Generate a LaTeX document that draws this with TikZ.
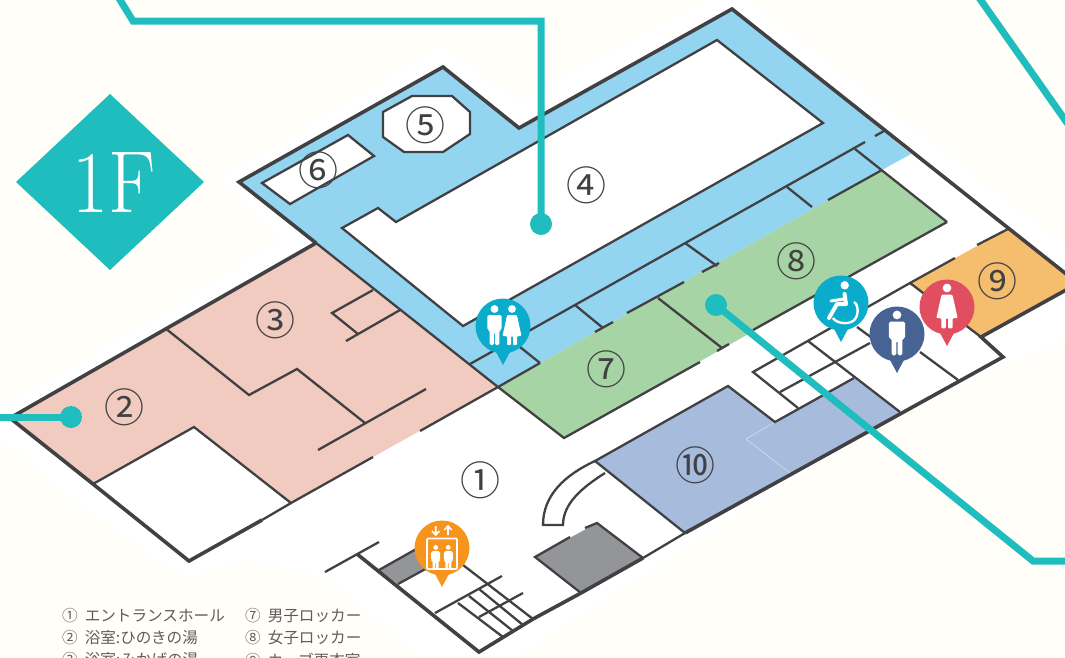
\documentclass[tikz,border=0pt]{standalone}
\usepackage{fontspec}
\usepackage{graphicx}
\newfontfamily\jpfont{Noto Sans CJK JP}
\usetikzlibrary{calc}
\definecolor{paper}{HTML}{FFFEF8}
\definecolor{wallcol}{HTML}{414042}
\definecolor{leadcol}{HTML}{20BDBE}
\definecolor{bluecol}{HTML}{93D5F0}
\definecolor{pinkcol}{HTML}{F1CBC0}
\definecolor{greencol}{HTML}{A7D4A5}
\definecolor{orangecol}{HTML}{F5BE6E}
\definecolor{slatecol}{HTML}{A7BBDD}
\definecolor{graycol}{HTML}{939598}
\definecolor{pincyan}{HTML}{0AABCB}
\definecolor{pinnavy}{HTML}{466393}
\definecolor{pinred}{HTML}{E04E60}
\definecolor{pinorange}{HTML}{F7941E}
\def\haloshape{(220,178) -- (440,45) -- (520,100) -- (730,-15) -- (750,0) -- (960,163) -- (1080,255) -- (1080,335) -- (920,400) -- (543,640) -- (479,690) -- (440,680) -- (333,580) -- (246,560) -- (190,577) -- (173,573) -- (50,483) -- (-20,420) -- (200,290) -- (280,238) -- cycle}
\def\blueroom{(239,182) -- (443,67) -- (519,128) -- (732,9) -- (911,154) -- (882,170) -- (498,387) -- cycle}
\def\courtyard{(342,228) -- (378,208) -- (396,222) -- (717,40) -- (823,123) -- (463,326) -- cycle}
\def\pinkroom{(316,243) -- (10,418) -- (93,484) -- (194,427) -- (291,503) -- (498,387) -- cycle}
\def\greenroom{(498,387) -- (882,170) -- (947,222) -- (564,438) -- cycle}
\def\orangeroom{(1008,229) -- (1075,281) -- (1075,285) -- (981,337) -- (910,283) -- cycle}
\def\slateroom{(595,461) -- (728,386) -- (775,422) -- (854,378) -- (900,413) -- (685,533) -- cycle}
\def\manicon{\fill[white] (0,-17) circle [radius=3.9];
    \fill[white,rounded corners=1.5] (-7.2,-11) -- (7.2,-11) -- (7.2,4) -- (4.8,4) -- (4.8,19) -- (0.5,19) -- (0.5,6) -- (-0.5,6) -- (-0.5,19) -- (-4.8,19) -- (-4.8,4) -- (-7.2,4) -- cycle;}
\def\womanicon{\fill[white] (0,-17) circle [radius=3.9];
    \fill[white,rounded corners=1] (-4.8,-11) -- (4.8,-11) -- (6,-6) -- (9.5,10) -- (5,10) -- (5,19) -- (1,19) -- (1,10) -- (-1,10) -- (-1,19) -- (-5,19) -- (-5,10) -- (-9.5,10) -- (-6,-6) -- cycle;}
\tikzset{
    wallthick/.style={draw=wallcol,line width=3.6pt,line join=miter},
    wallthin/.style={draw=wallcol,line width=2.3pt,line join=miter},
    leader/.style={draw=leadcol,line width=7pt,line join=miter},
    leaddot/.style={circle,fill=leadcol,minimum size=22pt,inner sep=0pt},
    pinhead/.style={circle,minimum size=55pt,inner sep=0pt},
    roomnum/.style={text=wallcol,inner sep=0pt,font=\jpfont\fontsize{40}{40}\selectfont},
    legend/.style={anchor=west,text=wallcol!85,inner sep=0pt,font=\jpfont\fontsize{15.6}{16}\selectfont},
}
\begin{document}
\begin{tikzpicture}[x=1pt,y=-1pt]
    \useasboundingbox (0,0) rectangle (1065,657);
    \clip (0,0) rectangle (1065,657);
    \fill[paper] (0,0) rectangle (1065,657);
    \fill[white] \haloshape;
    % rooms
    \fill[bluecol] \blueroom;
    \fill[white,draw=wallcol,line width=2.3pt] \courtyard;
    \fill[pinkcol] \pinkroom;
    \fill[greencol] \greenroom;
    \fill[orangecol] \orangeroom;
    \fill[slatecol] \slateroom;
    \draw[draw=slatecol!55!white,line width=.7pt] (775,422) -- (746,439) -- (790,473);
    \fill[graycol] (535,557) -- (597,523) -- (643,558) -- (581,593) -- cycle;
    \fill[graycol] (379,570) -- (418,548) -- (440,561) -- (398,584) -- cycle;
    \fill[white,draw=wallcol,line width=2.3pt] (383,112) -- (412,96) -- (452,96) -- (470,112) -- (470,134) -- (443,152) -- (404,152) -- (383,137) -- cycle;
    \fill[white,draw=wallcol,line width=2.3pt] (262,183) -- (348,135) -- (374,156) -- (290,204) -- cycle;
    % outer walls
    \draw[wallthick] (316,243) -- (239,182) -- (443,67) -- (519,128) -- (732,9) -- (1075,281);
    \draw[wallthick] (316,243) -- (10,418) -- (93,484) -- (189,561) -- (262,520);
    \draw[wallthick] (1075,285) -- (981,337) -- (1003,357) -- (685,533);
    \draw[wallthick] (643,558) -- (581,593) -- (533,619);
    \draw[wallthick] (357,554) -- (479,652) -- (533,619);
    \draw[wallthin] (643,558) -- (685,533);
    \draw[wallthin] (262,520) -- (291,503);
    % pink room walls
    \draw[wallthin] (239,182) -- (498,387);
    \draw[wallthin] (93,484) -- (194,427) -- (291,503) -- (373,457);
    \draw[wallthin] (420,431) -- (498,387);
    \draw[wallthin] (165,328) -- (249,395) -- (297,369) -- (365,423);
    \draw[wallthin] (318,450) -- (426,389);
    \draw[wallthin] (373,290) -- (332,313) -- (358,334);
    \draw[wallthin] (346,341) -- (400,310);
    % blue and green walls
    \draw[wallthin] (470,364) -- (865,142);
    \draw[wallthin] (875,136) -- (884,131);
    \draw[wallthin] (505,335) -- (540,363);
    \draw[wallthin] (575,305) -- (603,328);
    \draw[wallthin] (685,243) -- (717,266);
    \draw[wallthin] (787,187) -- (812,207);
    \draw[wallthin] (855,149) -- (947,222);
    \draw[wallthin] (498,387) -- (540,363);
    \draw[wallthin] (595,332) -- (613,322);
    \draw[wallthin] (627,313) -- (684,282);
    \draw[wallthin] (702,272) -- (719,263);
    \draw[wallthin] (828,200) -- (882,170);
    \draw[wallthin] (498,387) -- (564,438) -- (700,362);
    \draw[wallthin] (717,351) -- (729,344);
    \draw[wallthin] (753,330) -- (947,222);
    \draw[wallthin] (658,298) -- (722,348);
    % lockers and orange room
    \draw[wallthin] (798,408) -- (753,372) -- (910,283) -- (955,258);
    \draw[wallthin] (977,245) -- (1008,229);
    \draw[wallthin] (910,283) -- (981,337);
    \draw[wallthin] (808,341) -- (900,412);
    \draw[wallthin] (780,392) -- (870,343);
    \draw[wallthin] (857,327) -- (872,338);
    \draw[wallthin] (920,352) -- (958,380);
    % slate room walls and door
    \draw[wallthin] (685,533) -- (595,461) -- (728,386) -- (775,422) -- (854,378);
    \draw[wallthin] (595,461) .. controls (565,475) and (543,495) .. (543,525) -- (563,525) .. controls (563,503) and (583,487) .. (605,473);
    % gray block and stairs
    \draw[wallthin] (570,537) -- (535,557) -- (581,593);
    \draw[wallthin] (585,528) -- (597,523) -- (643,558);
    \draw[wallthin] (379,542) -- (325,572);
    \draw[wallthin] (398,584) -- (440,561);
    \draw[wallthin] (379,570) -- (418,548);
    \draw[wallthin] (463,565) -- (533,619);
    \draw[wallthin] (435,613) -- (502,576);
    \draw[wallthin] (479,617) -- (523,593);
    \draw[wallthin] (458,603) -- (503,637);
    \draw[wallthin] (469,596) -- (513,631);
    \draw[wallthin] (479,589) -- (523,625);
    % room numbers
    \node[roomnum] (roomone) at (480,480) {①};
    \node[roomnum] (roomtwo) at (124,407) {②};
    \node[roomnum] (roomthree) at (275,320) {③};
    \node[roomnum] (roomfour) at (586,185) {④};
    \node[roomnum] (roomfive) at (425,125) {⑤};
    \node[roomnum] (roomsix) at (318,170) {⑥};
    \node[roomnum] (roomseven) at (606,369) {⑦};
    \node[roomnum] (roomeight) at (796,261) {⑧};
    \node[roomnum] (roomnine) at (997,281) {⑨};
    \node[roomnum] (roomten) at (695,465) {⑩};
    % floor mark
    \fill[leadcol] (110,94) -- (204,182) -- (110,270) -- (16,182) -- cycle;
    \node[text=white,inner sep=0pt] (floormark) at (114.5,183) {\scalebox{.89}[1]{\fontsize{88}{88}\selectfont 1F}};
    % legend
    \node[legend] (legone) at (62,616) {①\hspace{7pt}エントランスホール};
    \node[legend] (legtwo) at (62,638) {②\hspace{7pt}浴室:ひのきの湯};
    \node[legend] (legthree) at (62,660) {③\hspace{7pt}浴室:みかげの湯};
    \node[legend] (legseven) at (245,616) {⑦\hspace{7pt}男子ロッカー};
    \node[legend] (legeight) at (245,638) {⑧\hspace{7pt}女子ロッカー};
    \node[legend] (legnine) at (245,660) {⑨\hspace{7pt}カーブ更衣室};
    % pins
    \foreach \px/\py/\pc/\pn in {503/326/pincyan/pinrest,841/303/pincyan/pinchair,897/334/pinnavy/pinmen,947/307/pinred/pinwomen,442/548/pinorange/pinlift}{
        \fill[\pc] (\px-8,\py+24) -- (\px,\py+39) -- (\px+8,\py+24) -- cycle;
        \node[pinhead,fill=\pc] (\pn) at (\px,\py) {};
    }
    \begin{scope}[shift={(pinrest.center)}]
        \begin{scope}[shift={(-8.5,0)}] \manicon \end{scope}
        \begin{scope}[shift={(9,0)}] \womanicon \end{scope}
    \end{scope}
    \begin{scope}[shift={(pinmen.center)},scale=1.12] \manicon \end{scope}
    \begin{scope}[shift={(pinwomen.center)},scale=1.12] \womanicon \end{scope}
    \begin{scope}[shift={(pinchair.center)}]
        \fill[white] (3.7,-17.7) circle [radius=4.2];
        \draw[white,line width=4pt,line cap=round,line join=round] (3.5,-9) -- (5,1) -- (-4,1) -- (-12,15);
        \draw[white,line width=3pt,line cap=round] (3,-4) -- (-10,-2);
        \draw[white,line width=2.4pt] (13,-1) .. controls (18,2) and (18,14) .. (12,18) .. controls (6,22) and (-5,20) .. (-8,15);
    \end{scope}
    \begin{scope}[shift={(pinlift.center)}]
        \draw[white,line width=1.6pt,rounded corners=1] (-15,-9.5) rectangle (15,21);
        \draw[white,line width=1.6pt] (-6.3,-22) -- (-6.3,-13) (-10,-17) -- (-6.3,-13) -- (-2.6,-17);
        \draw[white,line width=1.6pt] (6,-13) -- (6,-22) (2.3,-18) -- (6,-22) -- (9.7,-18);
        \begin{scope}[shift={(-6.3,10)},scale=.62] \manicon \end{scope}
        \begin{scope}[shift={(6.3,10)},scale=.62] \manicon \end{scope}
    \end{scope}
    % leaders
    \node[leaddot] (dotfour) at (541,224) {};
    \node[leaddot] (dottwo) at (71,417) {};
    \node[leaddot] (doteight) at (716,305) {};
    \coordinate (topbend) at (541,21);
    \coordinate (topkink) at (133,21);
    \coordinate (topend) at (117,-5);
    \coordinate (leftend) at (-5,417);
    \coordinate (rightbend) at (1033,561);
    \coordinate (rightend) at (1070,561);
    \coordinate (cornera) at (975,-8);
    \coordinate (cornerb) at (1070,127);
    \draw[leader] (dotfour.center) -- (topbend) -- (topkink) -- (topend);
    \draw[leader] (dottwo.center) -- (leftend);
    \draw[leader] (doteight.center) -- (rightbend) -- (rightend);
    \draw[leader] (cornera) -- (cornerb);
\end{tikzpicture}
\end{document}
